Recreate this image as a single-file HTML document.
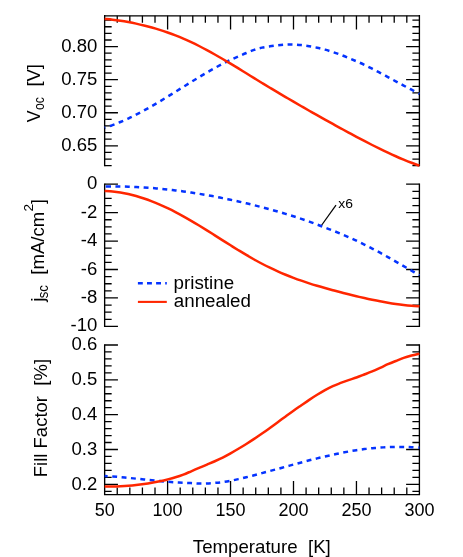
<!DOCTYPE html>
<html><head><meta charset="utf-8"><title>chart</title>
<style>html,body{margin:0;padding:0;background:#fff}svg{display:block;will-change:transform}</style>
</head><body>
<svg width="463" height="557" viewBox="0 0 463 557">
<rect width="463" height="557" fill="#fff"/>
<g stroke="#000" fill="none">
<path d="M104.65 15.12V166.15M419.40 15.12V166.15M104.65 183.52V327.05M419.40 183.52V327.05M104.65 344.32V495.32M419.40 344.32V495.32M103.98 15.80H420.07M103.98 494.65H420.07" stroke-width="1.35"/>
<path d="M104.65 165.65h7.00M419.40 165.65h-7.00M104.65 159.04h7.00M419.40 159.04h-7.00M104.65 152.42h7.00M419.40 152.42h-7.00M104.65 145.81h13.30M419.40 145.81h-13.30M104.65 139.20h7.00M419.40 139.20h-7.00M104.65 132.58h7.00M419.40 132.58h-7.00M104.65 125.97h7.00M419.40 125.97h-7.00M104.65 119.35h7.00M419.40 119.35h-7.00M104.65 112.74h13.30M419.40 112.74h-13.30M104.65 106.13h7.00M419.40 106.13h-7.00M104.65 99.51h7.00M419.40 99.51h-7.00M104.65 92.90h7.00M419.40 92.90h-7.00M104.65 86.28h7.00M419.40 86.28h-7.00M104.65 79.67h13.30M419.40 79.67h-13.30M104.65 73.06h7.00M419.40 73.06h-7.00M104.65 66.44h7.00M419.40 66.44h-7.00M104.65 59.83h7.00M419.40 59.83h-7.00M104.65 53.21h7.00M419.40 53.21h-7.00M104.65 46.60h13.30M419.40 46.60h-13.30M104.65 39.99h7.00M419.40 39.99h-7.00M104.65 33.37h7.00M419.40 33.37h-7.00M104.65 26.76h7.00M419.40 26.76h-7.00M104.65 20.14h7.00M419.40 20.14h-7.00M104.65 326.40h13.30M419.40 326.40h-13.30M104.65 319.29h7.00M419.40 319.29h-7.00M104.65 312.18h7.00M419.40 312.18h-7.00M104.65 305.07h7.00M419.40 305.07h-7.00M104.65 297.96h13.30M419.40 297.96h-13.30M104.65 290.85h7.00M419.40 290.85h-7.00M104.65 283.74h7.00M419.40 283.74h-7.00M104.65 276.63h7.00M419.40 276.63h-7.00M104.65 269.52h13.30M419.40 269.52h-13.30M104.65 262.41h7.00M419.40 262.41h-7.00M104.65 255.30h7.00M419.40 255.30h-7.00M104.65 248.19h7.00M419.40 248.19h-7.00M104.65 241.08h13.30M419.40 241.08h-13.30M104.65 233.97h7.00M419.40 233.97h-7.00M104.65 226.86h7.00M419.40 226.86h-7.00M104.65 219.75h7.00M419.40 219.75h-7.00M104.65 212.64h13.30M419.40 212.64h-13.30M104.65 205.53h7.00M419.40 205.53h-7.00M104.65 198.42h7.00M419.40 198.42h-7.00M104.65 191.31h7.00M419.40 191.31h-7.00M104.65 184.20h13.30M419.40 184.20h-13.30M104.65 491.29h7.00M419.40 491.29h-7.00M104.65 484.32h13.30M419.40 484.32h-13.30M104.65 477.35h7.00M419.40 477.35h-7.00M104.65 470.39h7.00M419.40 470.39h-7.00M104.65 463.42h7.00M419.40 463.42h-7.00M104.65 456.46h7.00M419.40 456.46h-7.00M104.65 449.49h13.30M419.40 449.49h-13.30M104.65 442.52h7.00M419.40 442.52h-7.00M104.65 435.56h7.00M419.40 435.56h-7.00M104.65 428.59h7.00M419.40 428.59h-7.00M104.65 421.63h7.00M419.40 421.63h-7.00M104.65 414.66h13.30M419.40 414.66h-13.30M104.65 407.69h7.00M419.40 407.69h-7.00M104.65 400.73h7.00M419.40 400.73h-7.00M104.65 393.76h7.00M419.40 393.76h-7.00M104.65 386.80h7.00M419.40 386.80h-7.00M104.65 379.83h13.30M419.40 379.83h-13.30M104.65 372.86h7.00M419.40 372.86h-7.00M104.65 365.90h7.00M419.40 365.90h-7.00M104.65 358.93h7.00M419.40 358.93h-7.00M104.65 351.97h7.00M419.40 351.97h-7.00M104.65 345.00h13.30M419.40 345.00h-13.30M117.24 15.80v7.00M117.24 494.65v-7.20M129.83 15.80v7.00M129.83 494.65v-7.20M142.42 15.80v7.00M142.42 494.65v-7.20M155.01 15.80v7.00M155.01 494.65v-7.20M167.60 15.80v13.80M167.60 494.65v-13.60M180.19 15.80v7.00M180.19 494.65v-7.20M192.78 15.80v7.00M192.78 494.65v-7.20M205.37 15.80v7.00M205.37 494.65v-7.20M217.96 15.80v7.00M217.96 494.65v-7.20M230.55 15.80v13.80M230.55 494.65v-13.60M243.14 15.80v7.00M243.14 494.65v-7.20M255.73 15.80v7.00M255.73 494.65v-7.20M268.32 15.80v7.00M268.32 494.65v-7.20M280.91 15.80v7.00M280.91 494.65v-7.20M293.50 15.80v13.80M293.50 494.65v-13.60M306.09 15.80v7.00M306.09 494.65v-7.20M318.68 15.80v7.00M318.68 494.65v-7.20M331.27 15.80v7.00M331.27 494.65v-7.20M343.86 15.80v7.00M343.86 494.65v-7.20M356.45 15.80v13.80M356.45 494.65v-13.60M369.04 15.80v7.00M369.04 494.65v-7.20M381.63 15.80v7.00M381.63 494.65v-7.20M394.22 15.80v7.00M394.22 494.65v-7.20M406.81 15.80v7.00M406.81 494.65v-7.20" stroke-width="1.30"/>
<path d="M321.4 225.5L336.0 205.2" stroke-width="1.25"/>
</g>
<g fill="none" stroke-linejoin="round">
<path d="M104.65 127.66 C105.96 127.23 109.90 126.01 112.52 125.07 C115.14 124.13 117.77 123.09 120.39 122.00 C123.01 120.91 125.64 119.74 128.26 118.52 C130.88 117.30 133.50 116.01 136.12 114.67 C138.74 113.33 141.37 111.93 143.99 110.50 C146.61 109.07 149.24 107.59 151.86 106.08 C154.48 104.57 157.11 103.01 159.73 101.44 C162.35 99.87 164.98 98.27 167.60 96.66 C170.22 95.05 172.85 93.41 175.47 91.78 C178.09 90.15 180.72 88.50 183.34 86.86 C185.96 85.22 188.59 83.59 191.21 81.97 C193.83 80.35 196.46 78.74 199.08 77.16 C201.70 75.58 204.32 74.01 206.94 72.49 C209.56 70.97 212.19 69.46 214.81 68.02 C217.43 66.58 220.06 65.17 222.68 63.82 C225.30 62.47 227.93 61.17 230.55 59.94 C233.17 58.71 235.80 57.58 238.42 56.43 C241.04 55.28 243.67 54.11 246.29 53.02 C248.91 51.93 251.54 50.80 254.16 49.90 C256.78 49.00 259.40 48.25 262.02 47.65 C264.64 47.05 267.27 46.73 269.89 46.32 C272.51 45.91 275.14 45.51 277.76 45.22 C280.38 44.93 283.01 44.68 285.63 44.56 C288.25 44.44 290.88 44.42 293.50 44.51 C296.12 44.60 298.75 44.81 301.37 45.10 C303.99 45.39 306.62 45.80 309.24 46.23 C311.86 46.66 314.49 47.13 317.11 47.70 C319.73 48.27 322.36 48.92 324.98 49.64 C327.60 50.36 330.22 51.17 332.84 52.03 C335.46 52.89 338.09 53.83 340.71 54.82 C343.33 55.81 345.96 56.89 348.58 57.97 C351.20 59.05 353.83 60.14 356.45 61.27 C359.07 62.40 361.70 63.53 364.32 64.77 C366.94 66.01 369.57 67.38 372.19 68.73 C374.81 70.08 377.44 71.46 380.06 72.85 C382.68 74.24 385.31 75.65 387.93 77.06 C390.55 78.47 393.17 79.90 395.79 81.32 C398.41 82.74 401.04 84.16 403.66 85.56 C406.28 86.96 408.91 88.36 411.53 89.73 C414.15 91.10 418.09 93.11 419.40 93.78" stroke="#0433FF" stroke-width="2.50" stroke-dasharray="4.9 4.5" stroke-dashoffset="3.90"/>
<path d="M104.65 186.47 C105.96 186.46 109.90 186.41 112.52 186.41 C115.14 186.41 117.77 186.44 120.39 186.48 C123.01 186.52 125.64 186.58 128.26 186.67 C130.88 186.75 133.50 186.86 136.12 186.99 C138.74 187.12 141.37 187.27 143.99 187.44 C146.61 187.61 149.24 187.79 151.86 188.00 C154.48 188.21 157.11 188.43 159.73 188.68 C162.35 188.93 164.98 189.19 167.60 189.48 C170.22 189.76 172.85 190.07 175.47 190.39 C178.09 190.71 180.72 191.06 183.34 191.42 C185.96 191.78 188.59 192.16 191.21 192.55 C193.83 192.95 196.46 193.36 199.08 193.79 C201.70 194.22 204.32 194.67 206.94 195.13 C209.56 195.59 212.19 196.07 214.81 196.57 C217.43 197.07 220.06 197.59 222.68 198.12 C225.30 198.65 227.93 199.20 230.55 199.76 C233.17 200.32 235.80 200.90 238.42 201.49 C241.04 202.08 243.67 202.69 246.29 203.32 C248.91 203.94 251.54 204.59 254.16 205.24 C256.78 205.90 259.40 206.56 262.02 207.25 C264.64 207.94 267.27 208.63 269.89 209.35 C272.51 210.07 275.14 210.80 277.76 211.55 C280.38 212.30 283.01 213.08 285.63 213.87 C288.25 214.66 290.88 215.47 293.50 216.31 C296.12 217.15 298.75 218.00 301.37 218.89 C303.99 219.77 306.62 220.68 309.24 221.62 C311.86 222.56 314.49 223.52 317.11 224.51 C319.73 225.50 322.36 226.56 324.98 227.57 C327.60 228.58 330.22 229.54 332.84 230.57 C335.46 231.60 338.09 232.66 340.71 233.76 C343.33 234.85 345.96 235.98 348.58 237.14 C351.20 238.30 353.83 239.47 356.45 240.70 C359.07 241.93 361.70 243.21 364.32 244.52 C366.94 245.83 369.57 247.19 372.19 248.55 C374.81 249.92 377.44 251.29 380.06 252.71 C382.68 254.13 385.31 255.61 387.93 257.08 C390.55 258.55 393.17 260.05 395.79 261.55 C398.41 263.05 401.04 264.56 403.66 266.07 C406.28 267.58 408.91 269.10 411.53 270.63 C414.15 272.16 418.09 274.47 419.40 275.24" stroke="#0433FF" stroke-width="2.50" stroke-dasharray="4.9 4.5" stroke-dashoffset="8.00"/>
<path d="M104.65 475.98 C105.96 476.06 109.90 476.28 112.52 476.47 C115.14 476.66 117.77 476.88 120.39 477.11 C123.01 477.34 125.64 477.59 128.26 477.85 C130.88 478.11 133.50 478.39 136.12 478.66 C138.74 478.93 141.37 479.21 143.99 479.49 C146.61 479.77 149.24 480.05 151.86 480.32 C154.48 480.59 157.11 480.85 159.73 481.09 C162.35 481.33 164.98 481.56 167.60 481.77 C170.22 481.97 172.85 482.16 175.47 482.32 C178.09 482.48 180.72 482.58 183.34 482.71 C185.96 482.84 188.59 482.96 191.21 483.10 C193.83 483.24 196.46 483.49 199.08 483.55 C201.70 483.61 204.32 483.57 206.94 483.46 C209.56 483.35 212.19 483.14 214.81 482.91 C217.43 482.68 220.06 482.45 222.68 482.10 C225.30 481.75 227.93 481.30 230.55 480.80 C233.17 480.30 235.80 479.69 238.42 479.10 C241.04 478.51 243.67 477.88 246.29 477.24 C248.91 476.60 251.54 475.93 254.16 475.24 C256.78 474.55 259.40 473.80 262.02 473.09 C264.64 472.38 267.27 471.69 269.89 470.99 C272.51 470.29 275.14 469.61 277.76 468.90 C280.38 468.19 283.01 467.46 285.63 466.74 C288.25 466.02 290.88 465.28 293.50 464.56 C296.12 463.84 298.75 463.14 301.37 462.43 C303.99 461.72 306.62 460.99 309.24 460.32 C311.86 459.65 314.49 459.02 317.11 458.39 C319.73 457.76 322.36 457.15 324.98 456.55 C327.60 455.95 330.22 455.36 332.84 454.78 C335.46 454.20 338.09 453.60 340.71 453.05 C343.33 452.50 345.96 451.99 348.58 451.51 C351.20 451.03 353.83 450.60 356.45 450.20 C359.07 449.80 361.70 449.43 364.32 449.10 C366.94 448.77 369.57 448.49 372.19 448.23 C374.81 447.98 377.44 447.75 380.06 447.57 C382.68 447.39 385.31 447.25 387.93 447.14 C390.55 447.03 393.17 446.96 395.79 446.93 C398.41 446.90 401.04 446.91 403.66 446.95 C406.28 446.99 408.91 447.07 411.53 447.19 C414.15 447.31 418.09 447.57 419.40 447.65" stroke="#0433FF" stroke-width="2.50" stroke-dasharray="4.9 4.5" stroke-dashoffset="1.80"/>
<path d="M104.65 18.91 C105.96 19.04 109.90 19.37 112.52 19.67 C115.14 19.97 117.77 20.32 120.39 20.72 C123.01 21.12 125.64 21.57 128.26 22.05 C130.88 22.54 133.50 23.06 136.12 23.63 C138.74 24.20 141.37 24.81 143.99 25.46 C146.61 26.11 149.24 26.80 151.86 27.53 C154.48 28.26 157.11 29.04 159.73 29.86 C162.35 30.68 164.98 31.55 167.60 32.46 C170.22 33.38 172.85 34.33 175.47 35.35 C178.09 36.37 180.72 37.45 183.34 38.58 C185.96 39.71 188.59 40.89 191.21 42.13 C193.83 43.37 196.46 44.67 199.08 46.00 C201.70 47.33 204.32 48.71 206.94 50.12 C209.56 51.53 212.19 52.99 214.81 54.47 C217.43 55.95 220.06 57.47 222.68 59.00 C225.30 60.53 227.93 62.10 230.55 63.67 C233.17 65.24 235.80 66.84 238.42 68.44 C241.04 70.04 243.67 71.66 246.29 73.27 C248.91 74.88 251.54 76.51 254.16 78.12 C256.78 79.73 259.40 81.35 262.02 82.95 C264.64 84.55 267.27 86.14 269.89 87.72 C272.51 89.30 275.14 90.87 277.76 92.43 C280.38 93.99 283.01 95.54 285.63 97.08 C288.25 98.62 290.88 100.16 293.50 101.68 C296.12 103.21 298.75 104.72 301.37 106.23 C303.99 107.74 306.62 109.24 309.24 110.73 C311.86 112.22 314.49 113.70 317.11 115.18 C319.73 116.66 322.36 118.13 324.98 119.59 C327.60 121.05 330.22 122.50 332.84 123.95 C335.46 125.40 338.09 126.84 340.71 128.28 C343.33 129.72 345.96 131.15 348.58 132.57 C351.20 133.99 353.83 135.41 356.45 136.81 C359.07 138.21 361.70 139.59 364.32 140.96 C366.94 142.33 369.57 143.67 372.19 145.00 C374.81 146.33 377.44 147.64 380.06 148.92 C382.68 150.20 385.31 151.46 387.93 152.68 C390.55 153.90 393.17 155.10 395.79 156.26 C398.41 157.42 401.04 158.54 403.66 159.63 C406.28 160.72 408.91 161.78 411.53 162.79 C414.15 163.80 418.09 165.21 419.40 165.69" stroke="#FF2600" stroke-width="2.50"/>
<path d="M104.65 190.95 C105.96 191.03 109.90 191.20 112.52 191.46 C115.14 191.72 117.77 192.06 120.39 192.49 C123.01 192.92 125.64 193.44 128.26 194.03 C130.88 194.62 133.50 195.28 136.12 196.02 C138.74 196.76 141.37 197.58 143.99 198.46 C146.61 199.34 149.24 200.30 151.86 201.31 C154.48 202.32 157.11 203.41 159.73 204.55 C162.35 205.69 164.98 206.89 167.60 208.14 C170.22 209.39 172.85 210.71 175.47 212.07 C178.09 213.43 180.72 214.84 183.34 216.30 C185.96 217.76 188.59 219.27 191.21 220.80 C193.83 222.34 196.46 223.91 199.08 225.51 C201.70 227.11 204.32 228.74 206.94 230.38 C209.56 232.02 212.19 233.68 214.81 235.34 C217.43 237.00 220.06 238.68 222.68 240.34 C225.30 242.00 227.93 243.67 230.55 245.31 C233.17 246.95 235.80 248.59 238.42 250.20 C241.04 251.80 243.67 253.39 246.29 254.94 C248.91 256.49 251.54 258.01 254.16 259.48 C256.78 260.95 259.40 262.37 262.02 263.74 C264.64 265.11 267.27 266.43 269.89 267.70 C272.51 268.97 275.14 270.18 277.76 271.35 C280.38 272.52 283.01 273.64 285.63 274.72 C288.25 275.80 290.88 276.83 293.50 277.82 C296.12 278.81 298.75 279.76 301.37 280.68 C303.99 281.60 306.62 282.47 309.24 283.32 C311.86 284.17 314.49 284.98 317.11 285.77 C319.73 286.56 322.36 287.32 324.98 288.06 C327.60 288.80 330.22 289.52 332.84 290.22 C335.46 290.93 338.09 291.61 340.71 292.29 C343.33 292.97 345.96 293.64 348.58 294.29 C351.20 294.94 353.83 295.59 356.45 296.21 C359.07 296.83 361.70 297.44 364.32 298.03 C366.94 298.62 369.57 299.19 372.19 299.73 C374.81 300.27 377.44 300.80 380.06 301.29 C382.68 301.78 385.31 302.25 387.93 302.69 C390.55 303.13 393.17 303.54 395.79 303.91 C398.41 304.28 401.04 304.63 403.66 304.93 C406.28 305.23 408.91 305.50 411.53 305.73 C414.15 305.96 418.09 306.21 419.40 306.30" stroke="#FF2600" stroke-width="2.50"/>
<path d="M104.65 486.42 C105.96 486.42 109.90 486.47 112.52 486.43 C115.14 486.39 117.77 486.31 120.39 486.20 C123.01 486.08 125.64 485.94 128.26 485.74 C130.88 485.54 133.50 485.30 136.12 485.02 C138.74 484.74 141.37 484.41 143.99 484.04 C146.61 483.67 149.24 483.25 151.86 482.79 C154.48 482.33 157.11 481.82 159.73 481.26 C162.35 480.70 164.98 480.10 167.60 479.44 C170.22 478.78 172.85 478.12 175.47 477.32 C178.09 476.51 180.72 475.62 183.34 474.61 C185.96 473.60 188.59 472.40 191.21 471.28 C193.83 470.15 196.46 468.98 199.08 467.86 C201.70 466.75 204.32 465.69 206.94 464.59 C209.56 463.49 212.19 462.43 214.81 461.26 C217.43 460.09 220.06 458.91 222.68 457.59 C225.30 456.27 227.93 454.80 230.55 453.33 C233.17 451.86 235.80 450.31 238.42 448.75 C241.04 447.19 243.67 445.59 246.29 443.95 C248.91 442.31 251.54 440.64 254.16 438.91 C256.78 437.18 259.40 435.39 262.02 433.57 C264.64 431.75 267.27 429.85 269.89 427.96 C272.51 426.06 275.14 424.12 277.76 422.20 C280.38 420.28 283.01 418.33 285.63 416.42 C288.25 414.51 290.88 412.61 293.50 410.75 C296.12 408.89 298.75 407.09 301.37 405.27 C303.99 403.45 306.62 401.59 309.24 399.84 C311.86 398.09 314.49 396.41 317.11 394.79 C319.73 393.17 322.36 391.56 324.98 390.11 C327.60 388.66 330.22 387.27 332.84 386.08 C335.46 384.89 338.09 383.95 340.71 382.95 C343.33 381.95 345.96 380.97 348.58 380.07 C351.20 379.17 353.83 378.45 356.45 377.53 C359.07 376.60 361.70 375.54 364.32 374.52 C366.94 373.50 369.57 372.50 372.19 371.39 C374.81 370.28 377.44 369.08 380.06 367.89 C382.68 366.70 385.31 365.38 387.93 364.23 C390.55 363.08 393.17 362.04 395.79 360.99 C398.41 359.94 401.04 358.84 403.66 357.92 C406.28 357.00 408.91 356.22 411.53 355.50 C414.15 354.78 418.09 353.93 419.40 353.62" stroke="#FF2600" stroke-width="2.50"/>
<path d="M137.9 283.3H166.8" stroke="#0433FF" stroke-width="2.50" stroke-dasharray="4.9 4.2"/>
<path d="M137.9 301.9H166.8" stroke="#FF2600" stroke-width="2.1"/>
</g>
<g font-family="'Liberation Sans', sans-serif" font-size="18" fill="#000">
<text transform="translate(97.30 151.11) scale(1.030 1)" text-anchor="end" xml:space="preserve">0.65</text>
<text transform="translate(97.30 118.04) scale(1.030 1)" text-anchor="end" xml:space="preserve">0.70</text>
<text transform="translate(97.30 84.97) scale(1.030 1)" text-anchor="end" xml:space="preserve">0.75</text>
<text transform="translate(97.30 51.90) scale(1.030 1)" text-anchor="end" xml:space="preserve">0.80</text>
<text transform="translate(97.30 189.00) scale(1.030 1)" text-anchor="end" xml:space="preserve">0</text>
<text transform="translate(97.30 217.94) scale(1.030 1)" text-anchor="end" xml:space="preserve">-2</text>
<text transform="translate(97.30 246.38) scale(1.030 1)" text-anchor="end" xml:space="preserve">-4</text>
<text transform="translate(97.30 274.82) scale(1.030 1)" text-anchor="end" xml:space="preserve">-6</text>
<text transform="translate(97.30 303.26) scale(1.030 1)" text-anchor="end" xml:space="preserve">-8</text>
<text transform="translate(97.30 331.00) scale(1.030 1)" text-anchor="end" xml:space="preserve">-10</text>
<text transform="translate(97.30 489.62) scale(1.030 1)" text-anchor="end" xml:space="preserve">0.2</text>
<text transform="translate(97.30 454.79) scale(1.030 1)" text-anchor="end" xml:space="preserve">0.3</text>
<text transform="translate(97.30 419.96) scale(1.030 1)" text-anchor="end" xml:space="preserve">0.4</text>
<text transform="translate(97.30 385.13) scale(1.030 1)" text-anchor="end" xml:space="preserve">0.5</text>
<text transform="translate(97.30 350.30) scale(1.030 1)" text-anchor="end" xml:space="preserve">0.6</text>
<text transform="translate(104.65 516.40) scale(1.000 1)" text-anchor="middle" xml:space="preserve">50</text>
<text transform="translate(167.60 516.40) scale(1.000 1)" text-anchor="middle" xml:space="preserve">100</text>
<text transform="translate(230.55 516.40) scale(1.000 1)" text-anchor="middle" xml:space="preserve">150</text>
<text transform="translate(293.50 516.40) scale(1.000 1)" text-anchor="middle" xml:space="preserve">200</text>
<text transform="translate(356.45 516.40) scale(1.000 1)" text-anchor="middle" xml:space="preserve">250</text>
<text transform="translate(419.40 516.40) scale(1.000 1)" text-anchor="middle" xml:space="preserve">300</text>
<text transform="translate(261.80 552.50) scale(1.038 1)" text-anchor="middle" xml:space="preserve">Temperature  [K]</text>
<text transform="translate(173.60 288.60) scale(1.043 1)" xml:space="preserve">pristine</text>
<text transform="translate(173.80 306.70) scale(1.042 1)" xml:space="preserve">annealed</text>
<text transform="translate(338.30 208.20) scale(1.030 1)" font-size="13.5" xml:space="preserve">x6</text>
<text transform="translate(40.00 122.37) rotate(-90) scale(0.9948 1.000)" font-size="18" xml:space="preserve">V</text>
<text transform="translate(43.70 110.12) rotate(-90) scale(0.9147 1.080)" font-size="13.5" xml:space="preserve">oc</text>
<text transform="translate(40.00 86.61) rotate(-90) scale(1.0279 1.000)" font-size="18" xml:space="preserve">[V]</text>
<text transform="translate(43.70 301.83) rotate(-90) scale(1.0494 1.000)" font-size="18" xml:space="preserve">j</text>
<text transform="translate(47.50 298.25) rotate(-90) scale(0.9699 1.080)" font-size="13.5" xml:space="preserve">sc</text>
<text transform="translate(43.70 274.72) rotate(-90) scale(1.0315 1.000)" font-size="18" xml:space="preserve">[mA/cm</text>
<text transform="translate(33.30 211.59) rotate(-90) scale(1.0234 1.000)" font-size="13.5" xml:space="preserve">2</text>
<text transform="translate(43.70 204.12) rotate(-90) scale(0.9444 1.000)" font-size="18" xml:space="preserve">]</text>
<text transform="translate(46.80 477.22) rotate(-90) scale(1.0288 1.000)" font-size="18" xml:space="preserve">Fill Factor  [%]</text>
</g>
</svg>
</body></html>
